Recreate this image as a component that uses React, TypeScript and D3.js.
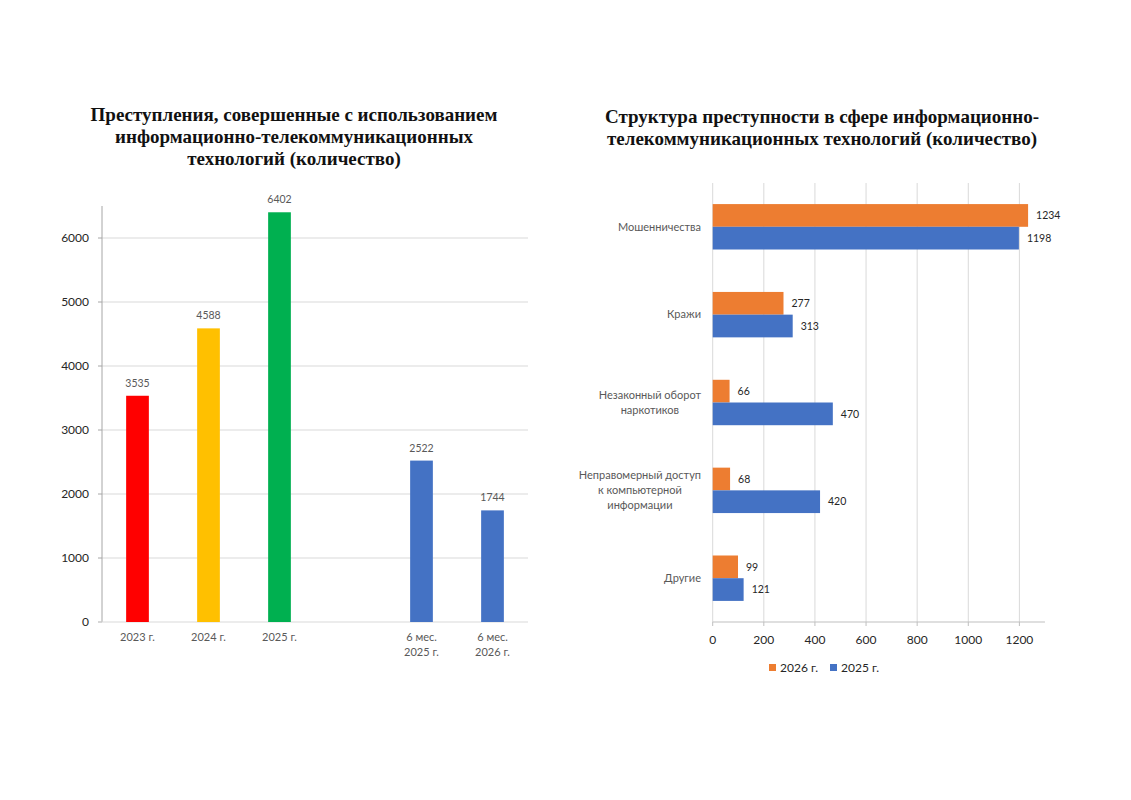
import React from "react";
import * as d3 from "d3";

// ---------- Data: left chart ----------
const leftTitle = [
  "Преступления, совершенные с использованием",
  "информационно-телекоммуникационных",
  "технологий (количество)",
];
const leftCategories = ["2023 г.", "2024 г.", "2025 г.", "gap", "6 мес.|2025 г.", "6 мес.|2026 г."];
const leftValues: (number | null)[] = [3535, 4588, 6402, null, 2522, 1744];
const leftColors = ["#FF0000", "#FFC000", "#00B050", "none", "#4472C4", "#4472C4"];
const leftTicks = [0, 1000, 2000, 3000, 4000, 5000, 6000];

// ---------- Data: right chart ----------
const rightTitle = [
  "Структура преступности в сфере информационно-",
  "телекоммуникационных технологий (количество)",
];
const rightCategories = [
  "Мошенничества",
  "Кражи",
  "Незаконный оборот|наркотиков",
  "Неправомерный доступ|к компьютерной|информации",
  "Другие",
];
const series2026 = [1234, 277, 66, 68, 99];
const series2025 = [1198, 313, 470, 420, 121];
const seriesNames = ["2026 г.", "2025 г."];
const seriesColors = ["#ED7D31", "#4472C4"];
const rightTicks = [0, 200, 400, 600, 800, 1000, 1200];

const SANS = "Lato, 'Open Sans', sans-serif";
const SERIF = "'Liberation Serif', 'Times New Roman', serif";

let measureCtx: CanvasRenderingContext2D | null = null;
function textWidth(t: string, font: string): number {
  if (!measureCtx) {
    const c = document.createElement("canvas");
    measureCtx = c.getContext("2d");
  }
  if (!measureCtx) return t.length * 6;
  measureCtx.font = font;
  return measureCtx.measureText(t).width;
}

function LeftChart() {
  const x0 = 102, x1 = 528, yTop = 206, yBot = 622;
  const x = d3.scaleBand<string>().domain(leftCategories).range([x0, x1]).paddingInner(0.68).paddingOuter(0.34);
  const y = d3.scaleLinear().domain([0, 6500]).range([yBot, yTop]);
  return (
    <g>
      {leftTitle.map((t, i) => (
        <text key={i} x={294} y={121 + i * 22} textAnchor="middle" fontFamily={SERIF} fontWeight="bold" fontSize={19} fill="#111">
          {t}
        </text>
      ))}
      {leftTicks.filter((t) => t > 0).map((t) => (
        <line key={t} x1={x0} x2={x1} y1={y(t)} y2={y(t)} stroke="#D9D9D9" strokeWidth={1} />
      ))}
      {leftTicks.map((t) => (
        <g key={"t" + t}>
          <line x1={x0 - 4} x2={x0} y1={y(t)} y2={y(t)} stroke="#A6A6A6" />
          <text x={89} y={y(t)} dy="0.35em" textAnchor="end" fontFamily={SANS} fontSize={12} fill="#262626">
            {t}
          </text>
        </g>
      ))}
      <line x1={x0} x2={x0} y1={yTop} y2={yBot} stroke="#A6A6A6" />
      <line x1={x0 - 4} x2={x1} y1={yBot} y2={yBot} stroke="#D9D9D9" />
      {leftCategories.map((c, i) => {
        const v = leftValues[i];
        const bx = x(c)!;
        const bw = x.bandwidth();
        const cx = bx + bw / 2;
        return (
          <g key={c}>
            {v !== null && (
              <>
                <rect x={bx} y={y(v)} width={bw} height={yBot - y(v)} fill={leftColors[i]} />
                <text x={cx} y={y(v) - 9} textAnchor="middle" fontFamily={SANS} fontSize={10.5} fill="#595959">
                  {v}
                </text>
                {c.split("|").map((line, j) => (
                  <text key={j} x={cx} y={641 + j * 15} textAnchor="middle" fontFamily={SANS} fontSize={11} fill="#595959">
                    {line}
                  </text>
                ))}
              </>
            )}
          </g>
        );
      })}
    </g>
  );
}

function RightChart() {
  const x0 = 712.7, yTop = 183, yBot = 622;
  const x = d3.scaleLinear().domain([0, 1300]).range([x0, x0 + 1300 * (306.7 / 1200)]);
  const y = d3.scaleBand<string>().domain(rightCategories).range([yTop, yBot]).paddingInner(0.483).paddingOuter(0.24);
  const barH = y.bandwidth() / 2;
  const labelFont = `11px ${SANS}`;
  return (
    <g>
      {rightTitle.map((t, i) => (
        <text key={i} x={822} y={123 + i * 22} textAnchor="middle" fontFamily={SERIF} fontWeight="bold" fontSize={19} fill="#111">
          {t}
        </text>
      ))}
      {rightTicks.map((t) => (
        <g key={t}>
          <line x1={x(t)} x2={x(t)} y1={yTop} y2={yBot} stroke="#D9D9D9" />
          <line x1={x(t)} x2={x(t)} y1={yBot} y2={yBot + 4} stroke="#BFBFBF" />
          <text x={x(t)} y={640} dy="0.35em" textAnchor="middle" fontFamily={SANS} fontSize={12} fill="#262626">
            {t}
          </text>
        </g>
      ))}
      <line x1={x0} x2={x(1300)} y1={yBot} y2={yBot} stroke="#BFBFBF" />
      {rightCategories.map((c, i) => {
        const by = y(c)!;
        const lines = c.split("|");
        const maxW = d3.max(lines, (l) => textWidth(l, labelFont)) || 0;
        const cxLabel = 701 - maxW / 2;
        const cy = by + y.bandwidth() / 2;
        const vals = [series2026[i], series2025[i]];
        return (
          <g key={c}>
            {vals.map((v, k) => (
              <g key={k}>
                <rect x={x0} y={by + k * barH} width={x(v) - x0} height={barH} fill={seriesColors[k]} />
                <text x={x(v) + 8} y={by + k * barH + barH / 2} dy="0.35em" fontFamily={SANS} fontSize={10.5} fill="#262626">
                  {v}
                </text>
              </g>
            ))}
            {lines.map((l, j) => (
              <text key={j} x={cxLabel} y={cy + (j - (lines.length - 1) / 2) * 15} dy="0.35em" textAnchor="middle" fontFamily={SANS} fontSize={11} fill="#595959">
                {l}
              </text>
            ))}
          </g>
        );
      })}
      {seriesNames.map((s, k) => {
        const lx = [769, 830][k];
        return (
          <g key={s}>
            <rect x={lx} y={664} width={7} height={7} fill={seriesColors[k]} />
            <text x={lx + 11} y={668} dy="0.35em" fontFamily={SANS} fontSize={12} fill="#262626">
              {s}
            </text>
          </g>
        );
      })}
    </g>
  );
}

export default function App() {
  return (
    <svg width={1131} height={800} style={{ position: "absolute", left: 0, top: 0, background: "#fff" }}>
      <rect width={1131} height={800} fill="#fff" />
      <LeftChart />
      <RightChart />
    </svg>
  );
}
